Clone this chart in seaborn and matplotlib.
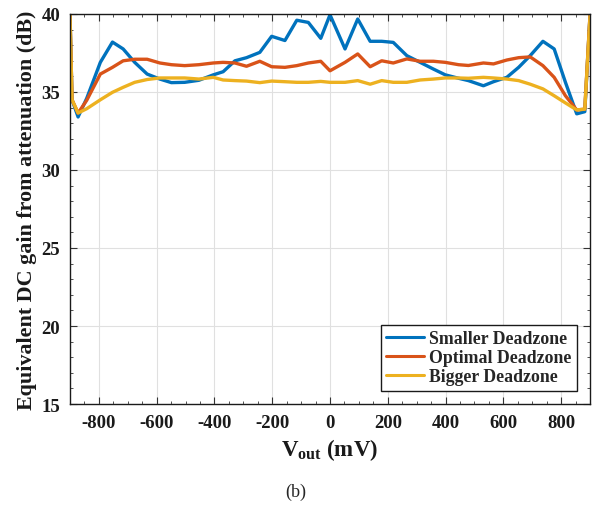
import numpy as np
import pandas as pd
import matplotlib
matplotlib.use("Agg")
import matplotlib.pyplot as plt
from matplotlib.ticker import MultipleLocator
import seaborn as sns

# Output voltage sweep (mV)
v_out = [-900, -893, -872, -842, -795, -753, -716, -676, -633, -589, -549, -503,
         -454, -404, -370, -329, -289, -243, -202, -156, -115, -75, -32, 0,
         52, 96, 139, 179, 219, 266, 312, 358, 399, 445, 479, 531, 566, 612,
         653, 693, 737, 776, 815, 854, 882, 900]

# Equivalent DC gain (dB) for each deadzone setting
gain_smaller = [39.9, 34.5, 33.4, 34.6, 36.9, 38.2, 37.76, 36.9, 36.15, 35.83, 35.6, 35.62,
                35.75, 36.1, 36.3, 37.0, 37.2, 37.54, 38.57, 38.3, 39.6, 39.46, 38.44, 39.95,
                37.76, 39.68, 38.25, 38.25, 38.18, 37.33, 36.9, 36.47, 36.1, 35.88, 35.73, 35.4, 35.66, 35.94,
                36.58, 37.33, 38.25, 37.76, 35.62, 33.6, 33.74, 39.9]
gain_optimal = [40.0, 34.5, 33.65, 34.47, 36.15, 36.58, 37.0, 37.1, 37.1, 36.86, 36.75, 36.69,
                36.75, 36.86, 36.9, 36.86, 36.65, 36.97, 36.62, 36.58, 36.69, 36.86, 36.97, 36.36,
                36.9, 37.44, 36.62, 37.0, 36.86, 37.12, 36.97, 36.97, 36.9, 36.75, 36.7, 36.86, 36.8, 37.05,
                37.2, 37.25, 36.69, 35.94, 34.76, 33.85, 33.9, 39.95]
gain_bigger = [40.0, 34.5, 33.65, 33.93, 34.5, 34.98, 35.3, 35.62, 35.8, 35.9, 35.9, 35.9,
               35.83, 35.94, 35.77, 35.73, 35.7, 35.6, 35.7, 35.66, 35.62, 35.62, 35.68, 35.62,
               35.62, 35.73, 35.5, 35.73, 35.62, 35.62, 35.77, 35.83, 35.9, 35.9, 35.88, 35.94, 35.9, 35.83,
               35.73, 35.5, 35.2, 34.76, 34.3, 33.85, 33.9, 39.85]

series_names = ["Smaller Deadzone", "Optimal Deadzone", "Bigger Deadzone"]
series_colors = ["#0072BD", "#D95319", "#EDB120"]

x_ticks = [-800, -600, -400, -200, 0, 200, 400, 600, 800]
y_ticks = [15, 20, 25, 30, 35, 40]

df = pd.concat([
    pd.DataFrame({"v": v_out, "gain": g, "curve": name})
    for name, g in zip(series_names, [gain_smaller, gain_optimal, gain_bigger])
], ignore_index=True)

sns.set_style("ticks")
plt.rcParams["font.family"] = ["Liberation Serif", "DejaVu Serif"]
plt.rcParams["mathtext.fontset"] = "custom"
plt.rcParams["mathtext.rm"] = "Liberation Serif:bold"
plt.rcParams["mathtext.bf"] = "Liberation Serif:bold"

fig = plt.figure(figsize=(5.92, 5.06), dpi=100)
ax = fig.add_axes([70 / 592, 1 - 405 / 506, 520 / 592, 390 / 506])

sns.lineplot(data=df, x="v", y="gain", hue="curve", hue_order=series_names,
             palette=series_colors, estimator=None, sort=False,
             linewidth=2.4, ax=ax)

ax.set_xlim(-900, 900)
ax.set_ylim(15, 40)
ax.set_xticks(x_ticks)
ax.set_yticks(y_ticks)
ax.set_xticklabels([str(t) for t in x_ticks])
ax.set_yticklabels([str(t) for t in y_ticks])
ax.xaxis.set_minor_locator(MultipleLocator(50))
ax.yaxis.set_minor_locator(MultipleLocator(1))
ax.tick_params(which="both", direction="in", top=True, right=True, color="#333333")
ax.tick_params(which="major", length=5, width=0.8, labelsize=13.5, pad=7)
ax.tick_params(which="minor", length=2.5, width=0.6)
for lab in ax.get_xticklabels() + ax.get_yticklabels():
    lab.set_fontweight("bold")
    lab.set_color("#1a1a1a")

ax.grid(True, which="major", color="#e0e0e0", linewidth=0.8)
ax.set_axisbelow(True)
for sp in ax.spines.values():
    sp.set_visible(True)
    sp.set_color("#1a1a1a")
    sp.set_linewidth(1.0)

ax.set_xlabel(r"V$_\mathrm{out}$ (mV)", fontsize=16.5, fontweight="bold", labelpad=4, color="#1a1a1a")
ax.set_ylabel("Equivalent DC gain from attenuation (dB)", fontsize=15.8,
              fontweight="bold", labelpad=3, color="#1a1a1a")

leg = ax.legend(loc="lower right", frameon=True, fancybox=False, framealpha=1,
                edgecolor="#1a1a1a", prop={"weight": "bold", "size": 12.8},
                handlelength=2.1, handletextpad=0.3, borderpad=0.3,
                labelspacing=0.12, borderaxespad=0.75)
leg.get_frame().set_linewidth(1.0)
for line in leg.get_lines():
    line.set_linewidth(2.2)

fig.text(296 / 592, 1 - 492 / 506, "(b)", ha="center", va="center", fontsize=13)

fig.savefig("out.png", dpi=100, facecolor="white")
